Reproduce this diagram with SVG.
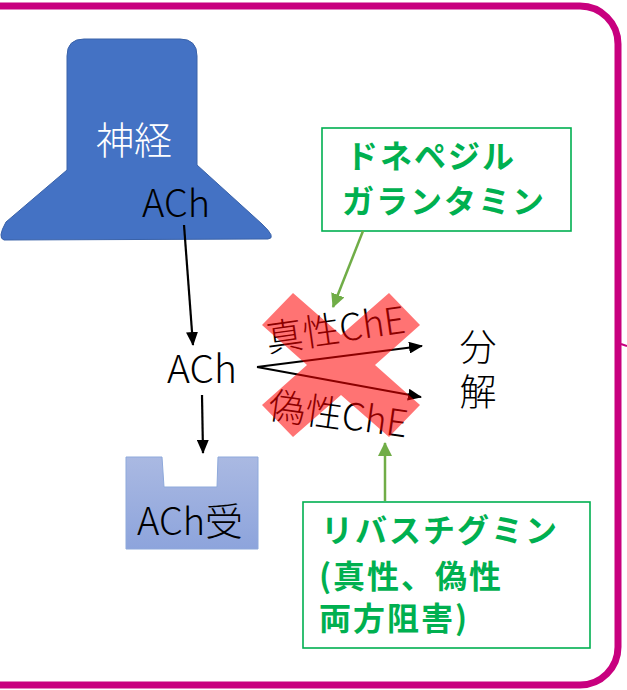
<svg xmlns="http://www.w3.org/2000/svg" width="627" height="690" viewBox="0 0 627 690">
<style>
.t{font-family:"Noto Sans CJK JP","Noto Sans",sans-serif;fill:#000;font-weight:300}
.g{font-family:"Noto Sans CJK JP",sans-serif;fill:#00B050;font-weight:bold;font-size:32px;letter-spacing:2px}
.k{stroke:#000;stroke-width:2.2;fill:none}
.gl{stroke:#70AD47;stroke-width:2.5;fill:none}
.box{fill:#fff;stroke:#00B050;stroke-width:1.6}
</style>
<defs>
<marker id="ak" markerUnits="userSpaceOnUse" markerWidth="14" markerHeight="12" refX="13" refY="6" orient="auto"><path d="M0,0 L14,6 L0,12 Z" fill="#000"/></marker>
<marker id="ag" markerUnits="userSpaceOnUse" markerWidth="14" markerHeight="14" refX="13" refY="7" orient="auto"><path d="M0,0 L14,7 L0,14 Z" fill="#70AD47"/></marker>
<linearGradient id="rg" x1="0" y1="0" x2="0" y2="1"><stop offset="0" stop-color="#AAB9E2"/><stop offset="1" stop-color="#8DA4DC"/></linearGradient>
</defs>
<rect x="-40" y="6" width="658" height="679" rx="38" fill="#fff" stroke="#C8007F" stroke-width="7"/>
<line x1="621" y1="344" x2="627" y2="346" stroke="#C8007F" stroke-width="2"/>

<g id="neuron">
<path d="M67,170 V56 Q67,39 84,39 H180 Q197,39 197,56 V165 L262,224 Q277,238 268,239 L4,240 Q-3,238 6,222 Z" fill="#4472C4" stroke="#3A62A8" stroke-width="1"/>
<text x="96" y="154" class="t" font-size="38" style="fill:#fff">神経</text>
<text x="142" y="217" class="t" font-size="38">ACh</text>
</g>

<g id="ach">
<text x="167" y="383" class="t" font-size="39">ACh</text>
</g>

<g id="receptor">
<path d="M126,457 H162 L164,487 H217 L218,457 H258 V549 H126 Z" fill="url(#rg)" stroke="#8EA9DB" stroke-width="1"/>
<text x="137" y="535" class="t" font-size="38">ACh受</text>
</g>

<g id="che">
<text class="t" font-size="37" transform="translate(268,352) rotate(-8)">真性ChE</text>
<text class="t" font-size="37" transform="translate(267,418) rotate(8)">偽性ChE</text>
</g>

<g id="bunkai">
<text x="478" y="328" class="t" font-size="37" writing-mode="vertical-rl" letter-spacing="8">分解</text>
</g>

<g id="drug1">
<rect x="322" y="128" width="249" height="103" class="box"/>
<text x="346" y="168" class="g">ドネペジル</text>
<text x="342" y="213" class="g">ガランタミン</text>
</g>

<g id="drug2">
<rect x="303" y="502" width="287" height="146" class="box"/>
<text x="321" y="542" class="g">リバスチグミン</text>
<text x="319" y="588" class="g">(真性、偽性</text>
<text x="319" y="630" class="g">両方阻害)</text>
</g>

<g id="connectors">
<line x1="184" y1="225" x2="193" y2="345" class="k" marker-end="url(#ak)"/>
<line x1="202" y1="395" x2="203" y2="453" class="k" marker-end="url(#ak)"/>
<line x1="257" y1="367" x2="422" y2="346" class="k" marker-end="url(#ak)"/>
<line x1="257" y1="367" x2="421" y2="397" class="k" marker-end="url(#ak)"/>
<line x1="363" y1="231" x2="333" y2="307" class="gl" marker-end="url(#ag)"/>
<line x1="385" y1="501" x2="385" y2="443" class="gl" marker-end="url(#ag)"/>
</g>

<g id="cross">
<path d="M293,293 L341,335 L389,293 L420,325 L375,365 L420,405 L389,437 L341,395 L293,437 L262,405 L307,365 L262,325 Z" fill="#FF0000" fill-opacity="0.55"/>
</g>
</svg>
